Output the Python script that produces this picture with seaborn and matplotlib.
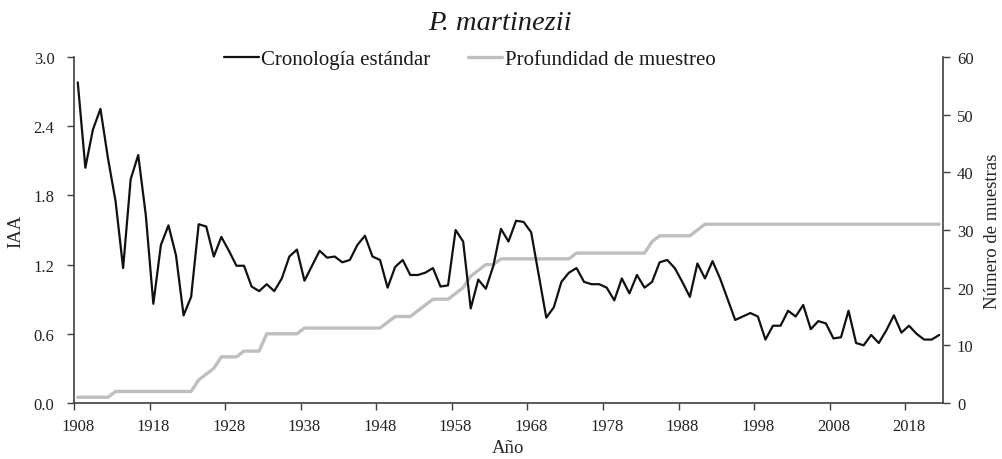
import pandas as pd
import seaborn as sns
import matplotlib.pyplot as plt
from matplotlib.lines import Line2D

# Data (one value per year, 1908-2022)
first_year = 1908
iaa = [
    2.78, 2.04, 2.37, 2.55, 2.12, 1.75, 1.17, 1.94, 2.15, 1.63,  # 1908-1917
    0.86, 1.37, 1.54, 1.28, 0.76, 0.92, 1.55, 1.53, 1.27, 1.44,  # 1918-1927
    1.32, 1.19, 1.19, 1.01, 0.97, 1.03, 0.97, 1.08, 1.27, 1.33,  # 1928-1937
    1.06, 1.19, 1.32, 1.26, 1.27, 1.22, 1.24, 1.37, 1.45, 1.27,  # 1938-1947
    1.24, 1.00, 1.18, 1.24, 1.11, 1.11, 1.13, 1.17, 1.01, 1.02,  # 1948-1957
    1.50, 1.40, 0.82, 1.07, 0.99, 1.19, 1.51, 1.40, 1.58, 1.57,  # 1958-1967
    1.48, 1.11, 0.74, 0.83, 1.05, 1.13, 1.17, 1.05, 1.03, 1.03,  # 1968-1977
    1.00, 0.89, 1.08, 0.95, 1.11, 1.00, 1.05, 1.22, 1.24, 1.17,  # 1978-1987
    1.05, 0.92, 1.21, 1.08, 1.23, 1.08, 0.90, 0.72, 0.75, 0.78,  # 1988-1997
    0.75, 0.55, 0.67, 0.67, 0.80, 0.75, 0.85, 0.64, 0.71, 0.69,  # 1998-2007
    0.56, 0.57, 0.80, 0.52, 0.50, 0.59, 0.52, 0.63, 0.76, 0.61,  # 2008-2017
    0.67, 0.60, 0.55, 0.55, 0.59,                                # 2018-2022
]
depth = [
    1, 1, 1, 1, 1, 2, 2, 2, 2, 2,
    2, 2, 2, 2, 2, 2, 4, 5, 6, 8,
    8, 8, 9, 9, 9, 12, 12, 12, 12, 12,
    13, 13, 13, 13, 13, 13, 13, 13, 13, 13,
    13, 14, 15, 15, 15, 16, 17, 18, 18, 18,
    19, 20, 22, 23, 24, 24, 25, 25, 25, 25,
    25, 25, 25, 25, 25, 25, 26, 26, 26, 26,
    26, 26, 26, 26, 26, 26, 28, 29, 29, 29,
    29, 29, 30, 31, 31, 31, 31, 31, 31, 31,
    31, 31, 31, 31, 31, 31, 31, 31, 31, 31,
    31, 31, 31, 31, 31, 31, 31, 31, 31, 31,
    31, 31, 31, 31, 31,
]
years = list(range(first_year, first_year + len(iaa)))
label_years = years[::10]
iaa_ticks = [0.0, 0.6, 1.2, 1.8, 2.4, 3.0]
depth_ticks = [0, 10, 20, 30, 40, 50, 60]

df = pd.DataFrame({"Año": years, "IAA": iaa, "Muestras": depth})

sns.set_style("ticks")
plt.rcParams["font.family"] = ["Liberation Serif", "DejaVu Serif"]
plt.rcParams["text.color"] = "#1a1a1a"

fig = plt.figure(figsize=(10.02, 4.6), dpi=100)
ax = fig.add_axes([74 / 1002, 1 - 404 / 460, 869 / 1002, 346 / 460])
ax2 = ax.twinx()

black = "#111111"
grey = "#bfbfbf"
sns.lineplot(data=df, x="Año", y="Muestras", ax=ax2, color=grey, linewidth=2.4)
sns.lineplot(data=df, x="Año", y="IAA", ax=ax, color=black, linewidth=1.6)
ax.set_zorder(ax2.get_zorder() + 1)
ax.patch.set_visible(False)

# axes ranges and ticks
ax.set_xlim(first_year - 0.5, years[-1] + 0.5)
ax.set_ylim(0, 3.0)
ax2.set_ylim(0, 60)
ax.set_xticks(label_years)
ax.set_xticklabels([str(y) for y in label_years])
ax.set_xticks([y - 0.5 for y in label_years], minor=True)
ax.set_yticks(iaa_ticks)
ax.set_yticklabels([f"{v:.1f}" for v in iaa_ticks])
ax2.set_yticks(depth_ticks)

axis_col = "#404040"
ax.tick_params(axis="x", which="major", length=0, pad=11, labelsize=12, labelcolor="#222222")
ax.tick_params(axis="x", which="minor", length=5, width=1, color=axis_col, direction="out")
ax.tick_params(axis="y", length=5, width=1, color=axis_col, pad=9, labelsize=12, labelcolor="#222222")
ax2.tick_params(axis="y", length=5, width=1, color=axis_col, pad=5, labelsize=12, labelcolor="#222222")

for s in ["top", "right"]:
    ax.spines[s].set_visible(False)
for s in ["top", "left", "bottom"]:
    ax2.spines[s].set_visible(False)
for s in ["left", "bottom"]:
    ax.spines[s].set_color(axis_col)
    ax.spines[s].set_linewidth(1.2)
ax2.spines["right"].set_color(axis_col)
ax2.spines["right"].set_linewidth(1.2)

ax.set_xlabel("Año", fontsize=13.5)
ax.set_ylabel("IAA", fontsize=13.5)
ax2.set_ylabel("Número de muestras", fontsize=13.5)
ax.xaxis.set_label_coords(0.5, -0.105)
ax.yaxis.set_label_coords(-0.057, 0.5)
ax2.yaxis.set_label_coords(1.047, 0.5)

fig.text(0.499, 0.948, "P. martinezii", ha="center", va="center",
         fontsize=20.5, style="italic")

handles = [
    Line2D([], [], color=black, linewidth=1.6),
    Line2D([], [], color=grey, linewidth=2.4),
]
fig.legend(handles, ["Cronología estándar", "Profundidad de muestreo"],
           loc="center", bbox_to_anchor=(470 / 1002, 1 - 60 / 460), ncol=2,
           frameon=False, fontsize=15, handlelength=1.65, handletextpad=0.12,
           columnspacing=1.8, borderaxespad=0, borderpad=0)

plt.savefig("out.png", dpi=100)
